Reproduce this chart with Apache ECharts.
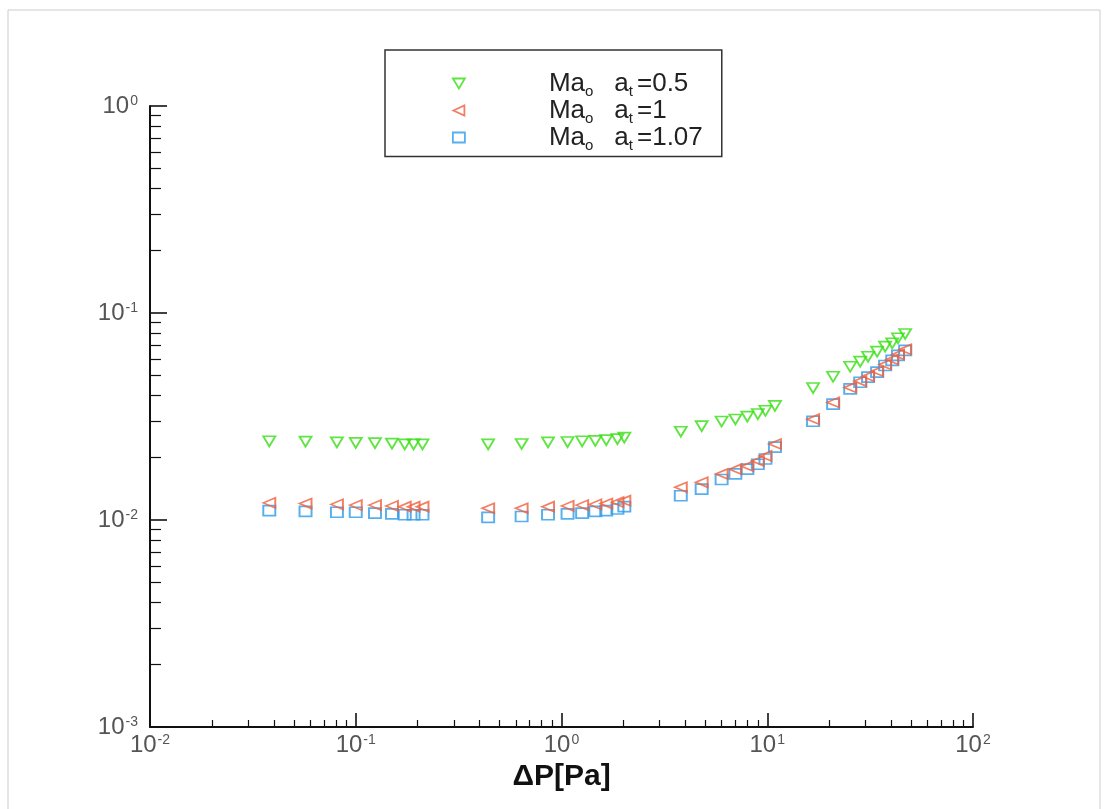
<!DOCTYPE html>
<html>
<head>
<meta charset="utf-8">
<title>Ma vs ΔP</title>
<script src="https://cdn.jsdelivr.net/npm/echarts@6/dist/echarts.min.js"></script>
<style>
  html, body { margin: 0; padding: 0; background: #ffffff; }
  #chart { width: 1105px; height: 809px; }
</style>
</head>
<body>
<div id="chart"></div>
<script>
// Pressure difference ΔP [Pa] for each measured point, grouped by run
const dpA = [0.038, 0.057, 0.081, 0.10, 0.124, 0.15, 0.173, 0.191, 0.211,
             0.44, 0.64, 0.86, 1.07, 1.26, 1.46, 1.65, 1.87, 2.02,
             3.8, 4.8, 6.0, 7.0, 8.0, 9.0, 9.8, 10.9,
             16.7, 20.9, 25.3, 28.3, 30.9, 34.2, 37.4, 40.5, 43.2, 46.8];

// Mach number at a_t = 0.5
const maA05 = [0.0240, 0.0239, 0.0237, 0.0236, 0.0235, 0.0234, 0.0232, 0.0232, 0.0232,
               0.0232, 0.0233, 0.0237, 0.0238, 0.0240, 0.0241, 0.0243, 0.0246, 0.0250,
               0.0267, 0.0284, 0.0299, 0.0306, 0.0316, 0.0325, 0.0337, 0.0356,
               0.0434, 0.0492, 0.0550, 0.0582, 0.0615, 0.0651, 0.0688, 0.0714, 0.0755, 0.0792];

// Mach number at a_t = 1
const maA1 = [0.0121, 0.0120, 0.0119, 0.0118, 0.0118, 0.0117, 0.0116, 0.0116, 0.0116,
              0.0114, 0.0114, 0.0116, 0.0117, 0.0118, 0.0119, 0.0120, 0.0122, 0.0124,
              0.0144, 0.0152, 0.0167, 0.0176, 0.0182, 0.0193, 0.0204, 0.0233,
              0.0307, 0.0370, 0.0437, 0.0469, 0.0495, 0.0523, 0.0564, 0.0596, 0.0630, 0.0667];

// Mach number at a_t = 1.07
const maA107 = [0.0111, 0.0110, 0.0109, 0.0109, 0.0108, 0.0107, 0.0106, 0.0106, 0.0106,
                0.0103, 0.0104, 0.0106, 0.0107, 0.0108, 0.0110, 0.0111, 0.0113, 0.0116,
                0.0131, 0.0141, 0.0157, 0.0167, 0.0176, 0.0186, 0.0197, 0.0225,
                0.0300, 0.0363, 0.0430, 0.0463, 0.0490, 0.0518, 0.0558, 0.0590, 0.0624, 0.0660];

// Series keys and the a_t value printed in the legend
const seriesNames = ['a05', 'a1', 'a107'];
const seriesValues = ['0.5', '1', '1.07'];

// Decade exponents shown as tick labels
const xTickExponents = [-2, -1, 0, 1, 2];
const yTickExponents = [-3, -2, -1, 0];

const colors = ['#36de12', '#ef5f3c', '#2e9be8'];
const FONT = 'Liberation Sans, Arial, sans-serif';

function pairs(xs, ys) {
  return xs.map((x, i) => [x, ys[i]]);
}

function decadeLabel(exps) {
  return function (value) {
    const e = Math.round(Math.log10(value));
    if (exps.indexOf(e) < 0) return '';
    return '{b|10}{s|' + e + '}';
  };
}

const tickRich = {
  b: { fontSize: 24, fontFamily: FONT, color: '#555555', lineHeight: 24 },
  s: { fontSize: 14, fontFamily: FONT, color: '#555555', lineHeight: 2, verticalAlign: 'top', padding: [0, 0, 0, 1] }
};

// a taller line (set by the spacer token) lets the subscripts drop below the main baseline
const legendRich = {
  m: { fontSize: 26, fontFamily: FONT, color: '#222222', lineHeight: 26 },
  s: { fontSize: 15, fontFamily: FONT, color: '#222222', lineHeight: 2, verticalAlign: 'bottom' },
  t: { fontSize: 15, fontFamily: FONT, color: '#222222', lineHeight: 2, verticalAlign: 'bottom', padding: [0, 4, 0, 0] },
  g: { fontSize: 26, width: 21, lineHeight: 31 }
};

function axisBase(majorLen, minorLen) {
  return {
    type: 'log',
    logBase: 10,
    axisLine: { show: true, onZero: false, lineStyle: { color: '#111111', width: 2 } },
    axisTick: { show: true, inside: true, length: majorLen, lineStyle: { color: '#111111', width: 1.6 } },
    minorTick: { show: true, splitNumber: 9, length: minorLen, lineStyle: { color: '#111111', width: 1.2 } },
    splitLine: { show: false },
    minorSplitLine: { show: false }
  };
}

// hollow marker shapes: down triangle, left triangle, square
const symbols = [
  { symbol: 'triangle', symbolSize: [12, 10], symbolRotate: 180, icon: 'path://M0,0 L12,0 L6,10 Z' },
  { symbol: 'triangle', symbolSize: [10, 12], symbolRotate: 90, icon: 'path://M0,5 L11,0 L11,10 Z' },
  { symbol: 'rect', symbolSize: [12, 10], symbolRotate: 0, icon: 'path://M0,0 L12,0 L12,10 L0,10 Z' }
];

const yData = [maA05, maA1, maA107];

const chart = echarts.init(document.getElementById('chart'), null, { renderer: 'canvas' });

chart.setOption({
  backgroundColor: '#ffffff',
  animation: false,
  graphic: [{
    type: 'rect',
    shape: { x: 8, y: 10, width: 1092, height: 810 },
    style: { fill: 'none', stroke: '#cccccc', lineWidth: 1 },
    silent: true,
    z: -1
  }],
  grid: { left: 150, right: 132, top: 106, bottom: 82, containLabel: false },
  legend: {
    orient: 'vertical',
    left: 385,
    top: 50,
    itemWidth: 12,
    itemHeight: 10,
    itemGap: -1.5,
    padding: [20.5, 19, 3.5, 67],
    borderColor: '#333333',
    borderWidth: 1.5,
    backgroundColor: '#ffffff',
    data: seriesNames.map((name, k) => ({
      name: name,
      icon: symbols[k].icon,
      itemStyle: { color: 'rgba(255,255,255,0)', borderColor: colors[k], borderWidth: 1.8 }
    })),
    formatter: function (name) {
      const v = seriesValues[seriesNames.indexOf(name)];
      return '{m|Ma}{s|o}{g|}{m|a}{t|t}{m|=' + v + '}';
    },
    textStyle: { padding: [0, 0, 0, 79], rich: legendRich }
  },
  xAxis: Object.assign(axisBase(14, 7), {
    min: 0.01,
    max: 100,
    axisLabel: { margin: 6, formatter: decadeLabel(xTickExponents), rich: tickRich },
    name: 'ΔP[Pa]',
    nameLocation: 'middle',
    nameGap: 31,
    nameTextStyle: { fontSize: 30, fontWeight: 'bold', color: '#111111', fontFamily: FONT }
  }),
  yAxis: Object.assign(axisBase(17, 11), {
    min: 0.001,
    max: 1,
    axisLabel: { margin: 12, formatter: decadeLabel(yTickExponents), rich: tickRich }
  }),
  series: seriesNames.map((name, k) => ({
    name: name,
    type: 'scatter',
    data: pairs(dpA, yData[k]),
    symbol: symbols[k].symbol,
    symbolSize: symbols[k].symbolSize,
    symbolRotate: symbols[k].symbolRotate,
    itemStyle: { color: 'rgba(255,255,255,0)', borderColor: colors[k], borderWidth: 1.8 },
    z: 3 - k
  }))
});
</script>
</body>
</html>
